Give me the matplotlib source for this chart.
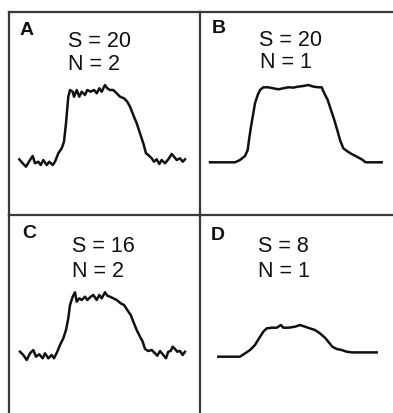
"""Four panel trace figure: S and N comparison (A-D)."""

import matplotlib

matplotlib.use("Agg")

import matplotlib.pyplot as plt

plt.rcParams["font.family"] = ["Liberation Sans", "DejaVu Sans"]

W, H = 393, 413
DPI = 100

# Trace samples: x position along the trace, y = signal above baseline.
A_X = [10.3, 13.7, 17.0, 21.0, 23.7, 26.0, 29.3, 31.7, 34.3, 37.7, 40.3, 43.7,
       46.0, 49.3, 52.7, 55.0, 57.0, 59.3, 61.0, 63.7, 65.0, 67.7, 70.3, 72.7,
       76.0, 78.3, 81.7, 85.0, 87.7, 90.3, 92.7, 96.0, 98.3, 101.0, 104.3,
       107.7, 111.0, 115.0, 118.3, 121.0, 124.3, 127.7, 131.0, 134.3, 137.0,
       139.3, 142.7, 145.0, 147.7, 150.3, 152.7, 156.0, 159.3, 162.7, 165.0,
       167.7, 171.0, 173.7, 176.0]
A_Y = [3.7, -0.3, -3.7, 3.0, 7.0, -0.3, 1.3, -2.0, 3.0, -2.0, 1.3, -2.0,
       1.3, 9.7, 14.7, 21.3, 39.7, 66.3, 73.0, 71.3, 66.3, 73.0, 66.3, 71.3,
       68.0, 73.0, 71.3, 73.0, 69.7, 74.7, 71.3, 78.0, 74.7, 73.0, 73.0,
       69.7, 66.3, 64.7, 61.3, 56.3, 48.0, 39.7, 29.7, 19.7, 9.7,
       8.0, 4.7, 1.3, 3.7, -1.0, 3.0, -0.3, 3.7, 9.0, 6.3,
       3.0, 4.7, 1.3, 3.7]

B_X = [10, 35, 40, 45, 47.7, 49, 51, 53.3, 55, 57.7, 60, 63.3, 68.3, 73.3,
       78.3, 83.3, 88.3, 93.3, 98.3, 103.3, 108.3, 113.3, 118.3, 121.7, 124.3,
       127.7, 131, 134.3, 137.7, 140, 143.3, 147.7, 151.7, 156.7, 161.7,
       165.7, 181.7]
B_Y = [0, 0, 2.3, 6.3, 12.3, 22.3, 35.7, 49, 59, 67.3, 72.3, 75, 75, 74,
       73, 74, 75, 74.7, 75.7, 76.3, 77.3, 75.7, 75, 75, 69,
       62.3, 52.3, 42.3, 30.7, 22.3, 14, 10.7, 8.3, 5.7, 3,
       0, 0]

C_X = [11, 14.3, 17.7, 21, 24.3, 27, 30.3, 33.7, 36, 39.3, 42.7, 45, 48.3,
       51, 54.3, 57, 59.3, 61, 63.7, 66, 67.7, 70.3, 72.7, 76, 78.3, 81.7,
       84.3, 87.7, 90.3, 92.7, 96, 98.3, 101, 104.3, 107.7, 111.7, 115, 118.3,
       121.7, 124.3, 127.7, 131, 133.7, 136, 139.3, 142.7, 146, 148.3, 151,
       153.7, 157, 159.3, 161.7, 163.7, 166, 168.3, 171, 173.7, 176]
C_Y = [3.3, 0, -5, 1.7, 5, -1.7, 0.7, -3.3, 1.7, -3.3, 0, -3.3, 3.3,
       10, 16.7, 25, 36.7, 50, 58.3, 62.7, 53.3, 56.7, 55, 58.3, 55, 58.3,
       60, 55, 60, 56.7, 62.7, 59.3, 58.3, 56.7, 55, 51.7, 50, 45,
       40, 33.3, 25, 18.3, 13.3, 6, 4, 5, 1.7, -0.7, 4,
       0.7, -3.3, 3.3, 4, 8.3, 6, 3.3, 4, 0, 3.3]

D_X = [18.3, 40, 45, 50, 55, 59, 63.3, 66.7, 71.7, 76.7, 81, 83.3, 88.3, 95,
       100, 105, 110, 115, 120, 125, 128.3, 132.3, 136.7, 141.7, 146.7,
       151.7, 176.7]
D_Y = [0, 0, 3.3, 6.7, 11.7, 18.3, 25, 28.3, 29, 29, 31.7, 29, 29, 30,
       31.7, 30, 28.3, 26.7, 23.3, 19, 15, 10, 7.7, 6.7, 5,
       4.3, 4.3]

LETTERS = ["A", "B", "C", "D"]
S_VALUES = [20, 20, 16, 8]
N_VALUES = [2, 1, 2, 1]

# Panel boxes in pixels: left, top, width, height, baseline (y px) of the trace.
PANELS = [
    (9, 12, 191, 203, 163.0),
    (200, 12, 193, 203, 162.3),
    (9, 215, 191, 198, 355.0),
    (200, 215, 193, 198, 356.7),
]
# Text anchors relative to the panel's top-left corner (px): letter, S line, N line.
LETTER_POS = [(11, 23), (12, 21), (13, 23), (11, 25)]
S_POS = [(59, 35), (59, 34), (63, 37), (58, 37)]
N_POS = [(59, 58), (60, 56), (63, 62), (58, 62)]

TRACES = [(A_X, A_Y), (B_X, B_Y), (C_X, C_Y), (D_X, D_Y)]
FRAME_COLOR = "#3a3a3a"
LINE_COLOR = "#111111"

fig = plt.figure(figsize=(W / DPI, H / DPI), dpi=DPI)

for i, (left, top, width, height, base) in enumerate(PANELS):
    ax = fig.add_axes([left / W, (H - top - height) / H, width / W, height / H])
    xs, ys = TRACES[i]
    ax.plot(xs, ys, color=LINE_COLOR, lw=1.8, solid_joinstyle="round")
    ax.set_xlim(0, width)
    ax.set_ylim(-(top + height - base), base - top)
    ax.set_xticks([])
    ax.set_yticks([])
    ax.patch.set_alpha(0)
    for name, spine in ax.spines.items():
        spine.set_color(FRAME_COLOR)
        spine.set_linewidth(1.6)
    ax.spines["bottom"].set_visible(False)
    if i in (1, 3):
        ax.spines["left"].set_visible(False)
        ax.spines["right"].set_visible(False)

    def frac(px, py, w=width, h=height):
        return px / w, 1 - py / h

    lx, ly = frac(*LETTER_POS[i])
    ax.text(lx, ly, LETTERS[i], transform=ax.transAxes, fontsize=14,
            fontweight="bold", va="baseline", ha="left", color="#111111")
    sx, sy = frac(*S_POS[i])
    ax.text(sx, sy, f"S = {S_VALUES[i]}", transform=ax.transAxes,
            fontsize=15.5, va="baseline", ha="left", color="#111111")
    nx, ny = frac(*N_POS[i])
    ax.text(nx, ny, f"N = {N_VALUES[i]}", transform=ax.transAxes,
            fontsize=15.5, va="baseline", ha="left", color="#111111")

fig.savefig("out.png", dpi=DPI)
plt.close(fig)
